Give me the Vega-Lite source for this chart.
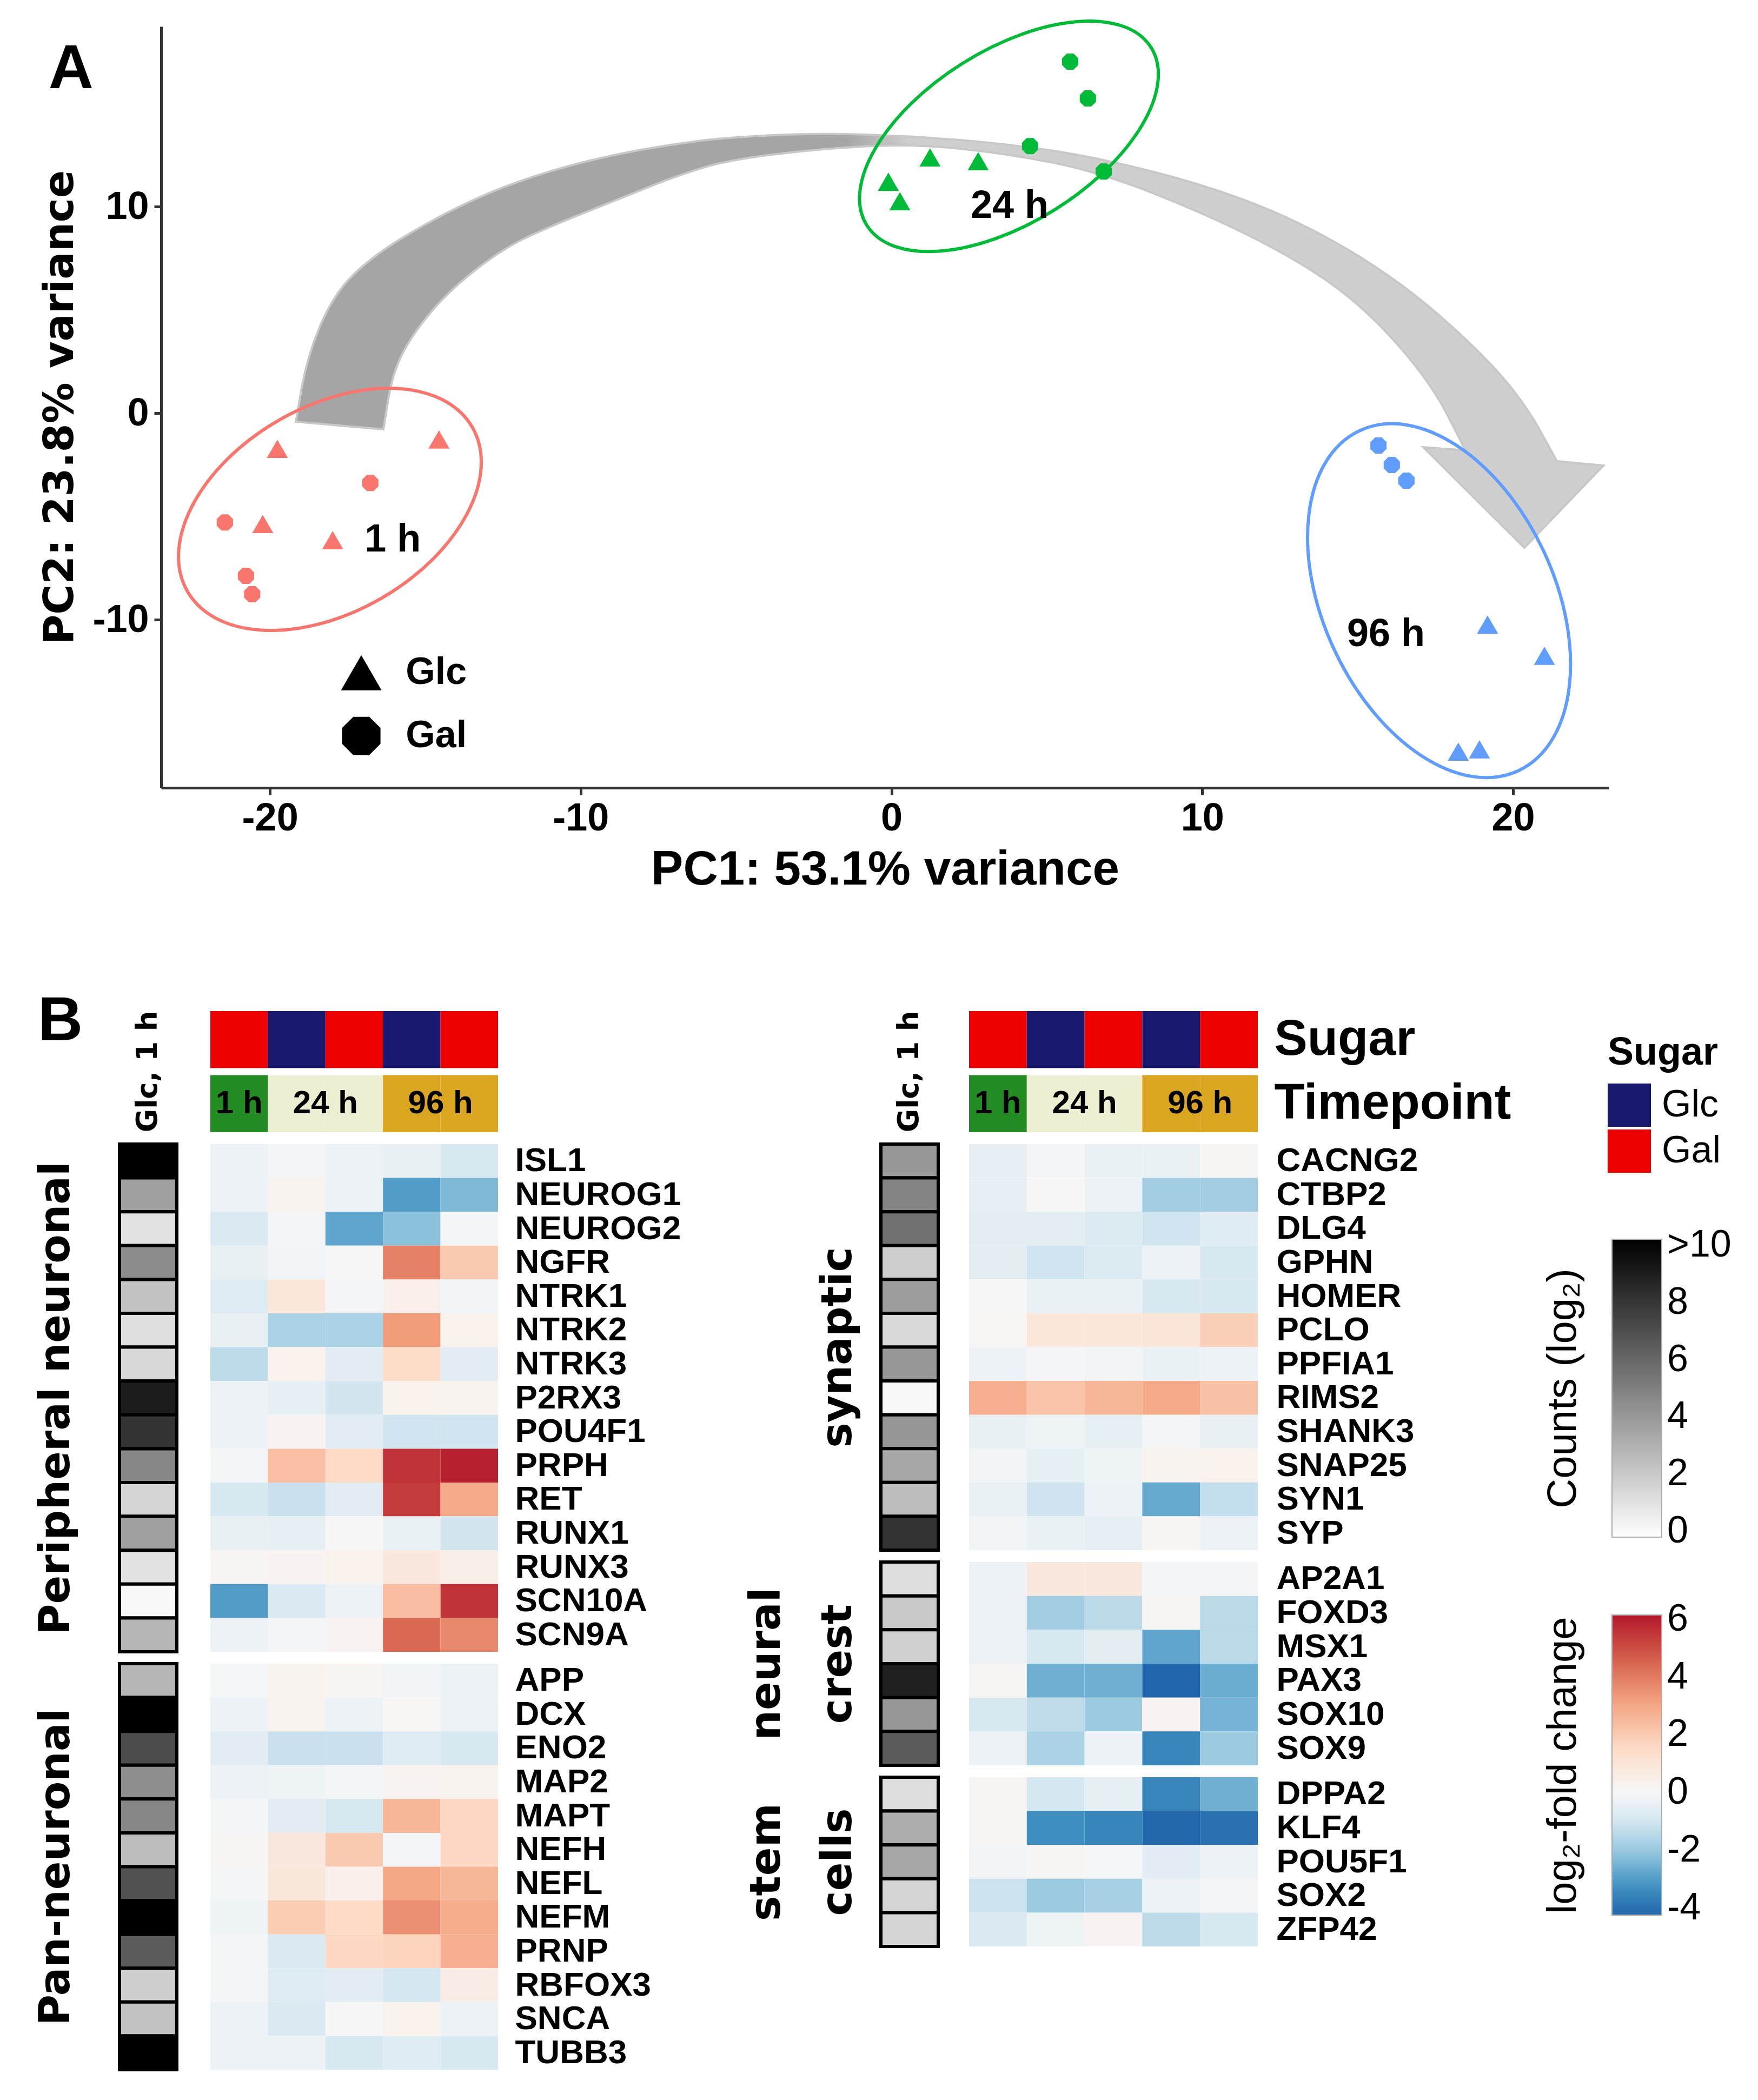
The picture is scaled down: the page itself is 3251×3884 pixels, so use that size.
{
  "$schema": "https://vega.github.io/schema/vega-lite/v6.json",
  "background": "white",
  "padding": {"left": 65, "top": 27, "right": 10, "bottom": 10},
  "config": {
    "view": {"stroke": null},
    "font": "Liberation Sans",
    "axis": {"grid": false, "labelColor": "black", "titleColor": "black", "labelFont": "Liberation Sans"},
    "legend": {"labelColor": "black", "titleColor": "black"}
  },
  "datasets": {
    "pca": [
      {"sugar": "Glc", "time": "1 h", "x": -19.76, "y": -1.73},
      {"sugar": "Glc", "time": "1 h", "x": -14.56, "y": -1.28},
      {"sugar": "Glc", "time": "1 h", "x": -20.23, "y": -5.37},
      {"sugar": "Glc", "time": "1 h", "x": -17.98, "y": -6.15},
      {"sugar": "Gal", "time": "1 h", "x": -16.77, "y": -3.38},
      {"sugar": "Gal", "time": "1 h", "x": -21.45, "y": -5.29},
      {"sugar": "Gal", "time": "1 h", "x": -20.77, "y": -7.88},
      {"sugar": "Gal", "time": "1 h", "x": -20.57, "y": -8.77},
      {"sugar": "Glc", "time": "24 h", "x": -0.10, "y": 11.20},
      {"sugar": "Glc", "time": "24 h", "x": 0.27, "y": 10.26},
      {"sugar": "Glc", "time": "24 h", "x": 1.24, "y": 12.38},
      {"sugar": "Glc", "time": "24 h", "x": 2.79, "y": 12.20},
      {"sugar": "Gal", "time": "24 h", "x": 5.75, "y": 17.02},
      {"sugar": "Gal", "time": "24 h", "x": 6.32, "y": 15.24},
      {"sugar": "Gal", "time": "24 h", "x": 4.46, "y": 12.93},
      {"sugar": "Gal", "time": "24 h", "x": 6.83, "y": 11.70},
      {"sugar": "Gal", "time": "96 h", "x": 15.67, "y": -1.57},
      {"sugar": "Gal", "time": "96 h", "x": 16.10, "y": -2.51},
      {"sugar": "Gal", "time": "96 h", "x": 16.57, "y": -3.27},
      {"sugar": "Glc", "time": "96 h", "x": 19.18, "y": -10.24},
      {"sugar": "Glc", "time": "96 h", "x": 21.01, "y": -11.75},
      {"sugar": "Glc", "time": "96 h", "x": 18.24, "y": -16.39},
      {"sugar": "Glc", "time": "96 h", "x": 18.92, "y": -16.28}
    ],
    "samples": [
      {"sample": "Gal 1h", "sugar": "Gal", "time": "1 h"},
      {"sample": "Glc 24h", "sugar": "Glc", "time": "24 h"},
      {"sample": "Gal 24h", "sugar": "Gal", "time": "24 h"},
      {"sample": "Glc 96h", "sugar": "Glc", "time": "96 h"},
      {"sample": "Gal 96h", "sugar": "Gal", "time": "96 h"}
    ],
    "genes": [
      {"block": "Peripheral neuronal", "gene": "ISL1", "counts": 10.5, "Gal 1h": -0.3, "Glc 24h": -0.1, "Gal 24h": -0.3, "Glc 96h": -0.4, "Gal 96h": -0.9},
      {"block": "Peripheral neuronal", "gene": "NEUROG1", "counts": 3.7, "Gal 1h": -0.3, "Glc 24h": 0.3, "Gal 24h": -0.3, "Glc 96h": -3.0, "Gal 96h": -2.4},
      {"block": "Peripheral neuronal", "gene": "NEUROG2", "counts": 1.0, "Gal 1h": -0.8, "Glc 24h": -0.1, "Gal 24h": -2.8, "Glc 96h": -2.2, "Gal 96h": -0.1},
      {"block": "Peripheral neuronal", "gene": "NGFR", "counts": 4.5, "Gal 1h": -0.4, "Glc 24h": -0.2, "Gal 24h": 0.0, "Glc 96h": 3.9, "Gal 96h": 2.0},
      {"block": "Peripheral neuronal", "gene": "NTRK1", "counts": 2.3, "Gal 1h": -0.7, "Glc 24h": 0.9, "Gal 24h": -0.1, "Glc 96h": 0.4, "Gal 96h": -0.2},
      {"block": "Peripheral neuronal", "gene": "NTRK2", "counts": 1.1, "Gal 1h": -0.4, "Glc 24h": -1.7, "Gal 24h": -1.7, "Glc 96h": 3.3, "Gal 96h": 0.35},
      {"block": "Peripheral neuronal", "gene": "NTRK3", "counts": 1.4, "Gal 1h": -1.4, "Glc 24h": 0.35, "Gal 24h": -0.6, "Glc 96h": 1.5, "Gal 96h": -0.6},
      {"block": "Peripheral neuronal", "gene": "P2RX3", "counts": 9.1, "Gal 1h": -0.3, "Glc 24h": -0.5, "Gal 24h": -1.0, "Glc 96h": 0.35, "Gal 96h": 0.3},
      {"block": "Peripheral neuronal", "gene": "POU4F1", "counts": 8.1, "Gal 1h": -0.3, "Glc 24h": 0.2, "Gal 24h": -0.6, "Glc 96h": -1.05, "Gal 96h": -1.05},
      {"block": "Peripheral neuronal", "gene": "PRPH", "counts": 4.7, "Gal 1h": -0.1, "Glc 24h": 2.3, "Gal 24h": 1.55, "Glc 96h": 5.6, "Gal 96h": 6.0},
      {"block": "Peripheral neuronal", "gene": "RET", "counts": 1.5, "Gal 1h": -0.85, "Glc 24h": -1.2, "Gal 24h": -0.6, "Glc 96h": 5.4, "Gal 96h": 2.9},
      {"block": "Peripheral neuronal", "gene": "RUNX1", "counts": 3.7, "Gal 1h": -0.4, "Glc 24h": -0.5, "Gal 24h": 0.0, "Glc 96h": -0.35, "Gal 96h": -1.0},
      {"block": "Peripheral neuronal", "gene": "RUNX3", "counts": 1.0, "Gal 1h": 0.15, "Glc 24h": 0.2, "Gal 24h": 0.35, "Glc 96h": 0.8, "Gal 96h": 0.45},
      {"block": "Peripheral neuronal", "gene": "SCN10A", "counts": 0.1, "Gal 1h": -3.0, "Glc 24h": -0.8, "Gal 24h": -0.3, "Glc 96h": 2.4, "Gal 96h": 5.6},
      {"block": "Peripheral neuronal", "gene": "SCN9A", "counts": 2.8, "Gal 1h": -0.3, "Glc 24h": -0.1, "Gal 24h": 0.2, "Glc 96h": 4.4, "Gal 96h": 3.7},
      {"block": "Pan-neuronal", "gene": "APP", "counts": 2.8, "Gal 1h": -0.05, "Glc 24h": 0.3, "Gal 24h": 0.15, "Glc 96h": -0.2, "Gal 96h": -0.3},
      {"block": "Pan-neuronal", "gene": "DCX", "counts": 10.5, "Gal 1h": -0.3, "Glc 24h": 0.3, "Gal 24h": -0.3, "Glc 96h": 0.05, "Gal 96h": -0.3},
      {"block": "Pan-neuronal", "gene": "ENO2", "counts": 7.1, "Gal 1h": -0.6, "Glc 24h": -1.2, "Gal 24h": -1.2, "Glc 96h": -0.7, "Gal 96h": -0.85},
      {"block": "Pan-neuronal", "gene": "MAP2", "counts": 4.4, "Gal 1h": -0.3, "Glc 24h": -0.25, "Gal 24h": -0.1, "Glc 96h": 0.2, "Gal 96h": 0.3},
      {"block": "Pan-neuronal", "gene": "MAPT", "counts": 4.7, "Gal 1h": -0.1, "Glc 24h": -0.6, "Gal 24h": -0.9, "Glc 96h": 2.6, "Gal 96h": 1.6},
      {"block": "Pan-neuronal", "gene": "NEFH", "counts": 2.5, "Gal 1h": 0.1, "Glc 24h": 0.8, "Gal 24h": 2.0, "Glc 96h": -0.1, "Gal 96h": 1.6},
      {"block": "Pan-neuronal", "gene": "NEFL", "counts": 6.9, "Gal 1h": -0.1, "Glc 24h": 0.85, "Gal 24h": 0.4, "Glc 96h": 3.0, "Gal 96h": 2.6},
      {"block": "Pan-neuronal", "gene": "NEFM", "counts": 10.5, "Gal 1h": -0.25, "Glc 24h": 1.95, "Gal 24h": 1.55, "Glc 96h": 3.55, "Gal 96h": 2.85},
      {"block": "Pan-neuronal", "gene": "PRNP", "counts": 6.5, "Gal 1h": -0.1, "Glc 24h": -0.8, "Gal 24h": 1.6, "Glc 96h": 1.75, "Gal 96h": 2.8},
      {"block": "Pan-neuronal", "gene": "RBFOX3", "counts": 1.8, "Gal 1h": -0.1, "Glc 24h": -0.7, "Gal 24h": -0.6, "Glc 96h": -0.95, "Gal 96h": 0.6},
      {"block": "Pan-neuronal", "gene": "SNCA", "counts": 2.3, "Gal 1h": -0.3, "Glc 24h": -0.8, "Gal 24h": 0.0, "Glc 96h": 0.35, "Gal 96h": -0.3},
      {"block": "Pan-neuronal", "gene": "TUBB3", "counts": 10.5, "Gal 1h": -0.3, "Glc 24h": -0.3, "Gal 24h": -0.9, "Glc 96h": -0.65, "Gal 96h": -0.85},
      {"block": "synaptic", "gene": "CACNG2", "counts": 4.0, "Gal 1h": -0.45, "Glc 24h": -0.1, "Gal 24h": -0.35, "Glc 96h": -0.35, "Gal 96h": 0.1},
      {"block": "synaptic", "gene": "CTBP2", "counts": 4.8, "Gal 1h": -0.45, "Glc 24h": 0.0, "Gal 24h": -0.3, "Glc 96h": -1.85, "Gal 96h": -1.85},
      {"block": "synaptic", "gene": "DLG4", "counts": 5.6, "Gal 1h": -0.55, "Glc 24h": -0.55, "Gal 24h": -0.75, "Glc 96h": -1.05, "Gal 96h": -0.65},
      {"block": "synaptic", "gene": "GPHN", "counts": 1.8, "Gal 1h": -0.55, "Glc 24h": -1.05, "Gal 24h": -0.75, "Glc 96h": -0.3, "Gal 96h": -0.85},
      {"block": "synaptic", "gene": "HOMER", "counts": 3.8, "Gal 1h": 0.0, "Glc 24h": -0.35, "Gal 24h": -0.35, "Glc 96h": -0.85, "Gal 96h": -0.85},
      {"block": "synaptic", "gene": "PCLO", "counts": 1.3, "Gal 1h": 0.05, "Glc 24h": 0.9, "Gal 24h": 0.9, "Glc 96h": 1.0, "Gal 96h": 1.85},
      {"block": "synaptic", "gene": "PPFIA1", "counts": 4.0, "Gal 1h": -0.3, "Glc 24h": -0.1, "Gal 24h": -0.2, "Glc 96h": -0.35, "Gal 96h": -0.3},
      {"block": "synaptic", "gene": "RIMS2", "counts": 0.1, "Gal 1h": 2.8, "Glc 24h": 2.2, "Gal 24h": 2.6, "Glc 96h": 2.9, "Gal 96h": 2.25},
      {"block": "synaptic", "gene": "SHANK3", "counts": 4.1, "Gal 1h": -0.4, "Glc 24h": -0.25, "Gal 24h": -0.5, "Glc 96h": -0.1, "Gal 96h": -0.4},
      {"block": "synaptic", "gene": "SNAP25", "counts": 3.4, "Gal 1h": -0.2, "Glc 24h": -0.5, "Gal 24h": -0.25, "Glc 96h": 0.3, "Gal 96h": 0.35},
      {"block": "synaptic", "gene": "SYN1", "counts": 2.5, "Gal 1h": -0.35, "Glc 24h": -1.1, "Gal 24h": -0.3, "Glc 96h": -2.7, "Gal 96h": -1.3},
      {"block": "synaptic", "gene": "SYP", "counts": 8.1, "Gal 1h": -0.2, "Glc 24h": -0.35, "Gal 24h": -0.5, "Glc 96h": 0.15, "Gal 96h": -0.3},
      {"block": "neural crest", "gene": "AP2A1", "counts": 1.2, "Gal 1h": -0.3, "Glc 24h": 0.8, "Gal 24h": 0.8, "Glc 96h": -0.1, "Gal 96h": -0.1},
      {"block": "neural crest", "gene": "FOXD3", "counts": 2.0, "Gal 1h": -0.3, "Glc 24h": -1.85, "Gal 24h": -1.45, "Glc 96h": 0.15, "Gal 96h": -1.45},
      {"block": "neural crest", "gene": "MSX1", "counts": 1.7, "Gal 1h": -0.3, "Glc 24h": -0.9, "Gal 24h": -0.55, "Glc 96h": -2.8, "Gal 96h": -1.45},
      {"block": "neural crest", "gene": "PAX3", "counts": 8.9, "Gal 1h": 0.1, "Glc 24h": -2.6, "Gal 24h": -2.6, "Glc 96h": -4.4, "Gal 96h": -2.65},
      {"block": "neural crest", "gene": "SOX10", "counts": 4.0, "Gal 1h": -0.9, "Glc 24h": -1.35, "Gal 24h": -1.95, "Glc 96h": 0.2, "Gal 96h": -2.5},
      {"block": "neural crest", "gene": "SOX9", "counts": 6.5, "Gal 1h": -0.3, "Glc 24h": -1.7, "Gal 24h": -0.3, "Glc 96h": -3.5, "Gal 96h": -1.95},
      {"block": "stem cells", "gene": "DPPA2", "counts": 1.2, "Gal 1h": 0.1, "Glc 24h": -0.95, "Gal 24h": -0.5, "Glc 96h": -3.5, "Gal 96h": -2.6},
      {"block": "stem cells", "gene": "KLF4", "counts": 3.1, "Gal 1h": 0.1, "Glc 24h": -3.3, "Gal 24h": -3.55, "Glc 96h": -4.2, "Gal 96h": -4.0},
      {"block": "stem cells", "gene": "POU5F1", "counts": 3.4, "Gal 1h": -0.2, "Glc 24h": 0.1, "Gal 24h": -0.05, "Glc 96h": -0.6, "Gal 96h": -0.3},
      {"block": "stem cells", "gene": "SOX2", "counts": 1.5, "Gal 1h": -1.15, "Glc 24h": -1.95, "Gal 24h": -1.75, "Glc 96h": -0.3, "Gal 96h": -0.1},
      {"block": "stem cells", "gene": "ZFP42", "counts": 1.5, "Gal 1h": -0.8, "Glc 24h": -0.25, "Gal 24h": 0.2, "Glc 96h": -1.4, "Gal 96h": -0.9}
    ]
  },
  "concat": [
    {
      "hconcat": [
        {
          "width": 1, "height": 1,
          "data": {"values": [{}]},
          "mark": {"type": "point", "opacity": 0}
        },
        {
          "width": 2677,
          "height": 1408,
          "encoding": {
            "x": {"field": "x", "type": "quantitative", "scale": {"domain": [-23.5, 23.08], "nice": false, "zero": false},
              "axis": {"values": [-20, -10, 0, 10, 20], "labelExpr": "toString(datum.value)", "title": "PC1: 53.1% variance", "titleFont": "Liberation Sans", "titleFontSize": 89, "titleFontWeight": "bold", "titlePadding": 16, "labelFontSize": 72, "labelFontWeight": "bold", "labelPadding": 8, "tickSize": 13, "tickWidth": 5, "tickColor": "#333333", "domainColor": "#333333", "domainWidth": 5, "labelFlush": false}},
            "y": {"field": "y", "type": "quantitative", "scale": {"domain": [-18.14, 18.72], "nice": false, "zero": false},
              "axis": {"values": [-10, 0, 10], "labelExpr": "toString(datum.value)", "title": "PC2: 23.8% variance", "titleFont": "DejaVu Sans", "titleFontSize": 76, "titleFontWeight": "bold", "titlePadding": 20, "labelFontSize": 72, "labelFontWeight": "bold", "labelPadding": 10, "tickSize": 13, "tickWidth": 5, "tickColor": "#333333", "domainColor": "#333333", "domainWidth": 5, "labelFlush": false}}
          },
          "layer": [
            {
              "data": {"values": [{"x": 0.252, "y": 9.87}]},
              "mark": {"type": "point", "size": 4, "filled": true, "opacity": 1, "stroke": "#c8c8c8", "strokeWidth": 4,
                "fill": {"gradient": "linear", "x1": 0, "y1": 0, "x2": 1, "y2": 0, "stops": [{"offset": 0, "color": "#a5a5a5"}, {"offset": 0.42, "color": "#a5a5a5"}, {"offset": 0.47, "color": "#d0cfd0"}, {"offset": 1, "color": "#d0cfd0"}]},
                "shape": "M -1116 393 L -1105.5 332.5 Q -1095 272 -1070.5 214.5 Q -1046 157 -1011.5 123 Q -977 89 -925.5 57 Q -874 25 -816.5 -3.5 Q -759 -32 -701.5 -52 Q -644 -72 -586.5 -86.5 Q -529 -101 -471.5 -111 Q -414 -121 -366 -127 Q -318 -133 -232 -137 Q -146 -141 -60 -138 Q 26 -135 112.5 -128 Q 199 -121 285 -108 Q 371 -95 476.5 -67.5 Q 582 -40 668 -5.5 Q 754 29 840 81 Q 926 133 998 196 Q 1070 259 1113 308 Q 1156 357 1186 411.5 L 1216 466 L 1302 474 L 1156 626 L 969 440 L 1047 446 L 1015.5 384 Q 984 322 926.5 256 Q 869 190 811.5 147 Q 754 104 668 59.5 Q 582 15 476.5 -27 Q 371 -69 285 -86 Q 199 -103 112.5 -112 Q 26 -121 -60 -116.5 Q -146 -112 -232 -101.5 Q -318 -91 -366 -76 Q -414 -61 -471.5 -38 Q -529 -15 -586.5 8 Q -644 31 -687 51 Q -730 71 -779 108.5 Q -828 146 -862.5 186 Q -897 226 -917 263.5 Q -937 301 -945.5 354 L -954 407 Z"}
            },
            {
              "data": {"values": [{"x": -18.07, "y": -4.66}]},
              "mark": {"type": "point", "size": 4, "filled": false, "opacity": 1, "stroke": "#F8766D", "strokeWidth": 6, "angle": 330,
                "shape": "M 304 0 C 304 104.9 167.9 190 0 190 C -167.9 190 -304 104.9 -304 0 C -304 -104.9 -167.9 -190 0 -190 C 167.9 -190 304 -104.9 304 0 Z"}
            },
            {
              "data": {"values": [{"x": 3.78, "y": 13.40}]},
              "mark": {"type": "point", "size": 4, "filled": false, "opacity": 1, "stroke": "#00BA38", "strokeWidth": 6, "angle": 328,
                "shape": "M 310 0 C 310 88.4 171.2 160 0 160 C -171.2 160 -310 88.4 -310 0 C -310 -88.4 -171.2 -160 0 -160 C 171.2 -160 310 -88.4 310 0 Z"}
            },
            {
              "data": {"values": [{"x": 17.62, "y": -9.08}]},
              "mark": {"type": "point", "size": 4, "filled": false, "opacity": 1, "stroke": "#619CFF", "strokeWidth": 6, "angle": 65,
                "shape": "M 347 0 C 347 118.2 191.6 214 0 214 C -191.6 214 -347 118.2 -347 0 C -347 -118.2 -191.6 -214 0 -214 C 191.6 -214 347 -118.2 347 0 Z"}
            },
            {
              "data": {"name": "pca"},
              "mark": {"type": "point", "filled": true, "opacity": 1, "size": 1521},
              "encoding": {
                "color": {"field": "time", "type": "nominal", "scale": {"domain": ["1 h", "24 h", "96 h"], "range": ["#F8766D", "#00BA38", "#619CFF"]}, "legend": null},
                "shape": {"field": "sugar", "type": "nominal", "scale": {"domain": ["Glc", "Gal"], "range": ["triangle-up", "M -0.32 -0.77 L 0.32 -0.77 L 0.77 -0.32 L 0.77 0.32 L 0.32 0.77 L -0.32 0.77 L -0.77 0.32 L -0.77 -0.32 Z"]}, "legend": null}
              }
            },
            {
              "data": {"values": [{"sugar": "Glc", "x": -17.06, "y": -12.57}]},
              "mark": {"type": "point", "filled": true, "opacity": 1, "size": 5625, "color": "black"},
              "encoding": {"shape": {"field": "sugar", "type": "nominal", "scale": {"domain": ["Glc", "Gal"], "range": ["triangle-up", "M -0.32 -0.77 L 0.32 -0.77 L 0.77 -0.32 L 0.77 0.32 L 0.32 0.77 L -0.32 0.77 L -0.77 0.32 L -0.77 -0.32 Z"]}, "legend": null}}
            },
            {
              "data": {"values": [{"sugar": "Gal", "x": -17.06, "y": -15.63}]},
              "mark": {"type": "point", "filled": true, "opacity": 1, "size": 8500, "color": "black"},
              "encoding": {"shape": {"field": "sugar", "type": "nominal", "scale": {"domain": ["Glc", "Gal"], "range": ["triangle-up", "M -0.32 -0.77 L 0.32 -0.77 L 0.77 -0.32 L 0.77 0.32 L 0.32 0.77 L -0.32 0.77 L -0.77 0.32 L -0.77 -0.32 Z"]}, "legend": null}}
            },
            {
              "data": {"values": [{"label": "Glc", "x": -15.63, "y": -12.57}, {"label": "Gal", "x": -15.63, "y": -15.63}]},
              "mark": {"type": "text", "align": "left", "baseline": "middle", "font": "Liberation Sans", "fontSize": 70, "fontWeight": "bold", "color": "black"},
              "encoding": {"text": {"field": "label"}}
            },
            {
              "data": {"values": [{"label": "1 h", "x": -16.05, "y": -6.13}, {"label": "24 h", "x": 3.80, "y": 10.03}, {"label": "96 h", "x": 15.91, "y": -10.71}]},
              "mark": {"type": "text", "align": "center", "baseline": "middle", "font": "Liberation Sans", "fontSize": 72, "fontWeight": "bold", "color": "black"},
              "encoding": {"text": {"field": "label"}}
            },
            {
              "data": {"values": [{"label": "A", "x": -26.4, "y": 16.65}]},
              "mark": {"type": "text", "align": "center", "baseline": "middle", "font": "Liberation Sans", "fontSize": 115, "fontWeight": "bold", "color": "black"},
              "encoding": {"text": {"field": "label"}}
            }
          ]
        }
      ],
      "bounds": "flush",
      "spacing": 76
    },
    {
      "hconcat": [
        {
          "columns": 2,
          "bounds": "flush",
          "spacing": {"row": 22, "column": 62},
          "resolve": {"scale": {"color": "independent"}},
          "concat": [
            {
              "width": 106, "height": 224,
              "title": {"text": "B", "anchor": "start", "frame": "group", "orient": "top", "offset": 0, "dx": -151, "dy": 78, "font": "Liberation Sans", "fontSize": 115, "fontWeight": "bold", "color": "black"},
              "data": {"values": [{"label": "Glc, 1 h"}]},
              "mark": {"type": "text", "angle": 270, "font": "DejaVu Sans", "fontWeight": "bold", "fontSize": 53, "color": "black", "align": "center", "baseline": "middle"},
              "encoding": {"text": {"field": "label"}}
            },
            {
              "width": 532, "height": 224,
              "data": {"name": "samples"},
              "encoding": {"x": {"field": "sample", "type": "nominal", "scale": {"domain": ["Gal 1h", "Glc 24h", "Gal 24h", "Glc 96h", "Gal 96h"], "paddingInner": 0, "paddingOuter": 0}, "axis": null}},
              "layer": [
                {"mark": {"type": "rect"}, "encoding": {"y": {"datum": "Sugar", "type": "nominal", "scale": {"domain": ["Sugar", "Timepoint"], "paddingInner": 0.11, "paddingOuter": 0}, "axis": null}, "color": {"field": "sugar", "type": "nominal", "scale": {"domain": ["Glc", "Gal"], "range": ["#191970", "#EE0000"]}, "legend": null}}},
                {"mark": {"type": "rect"}, "encoding": {"y": {"datum": "Timepoint", "type": "nominal", "scale": {"domain": ["Sugar", "Timepoint"], "paddingInner": 0.11, "paddingOuter": 0}, "axis": null}, "color": {"field": "time", "type": "nominal", "scale": {"domain": ["1 h", "24 h", "96 h"], "range": ["#228B22", "#EEEED2", "#DAA520"]}, "legend": null}}},
                {"transform": [{"filter": "datum.time === '1 h'"}], "mark": {"type": "text", "font": "Liberation Sans", "fontSize": 60, "fontWeight": "bold", "color": "black", "align": "center", "baseline": "middle"}, "encoding": {"y": {"datum": "Timepoint", "type": "nominal", "axis": null}, "x": {"field": "sample", "type": "nominal", "bandPosition": 0.5}, "text": {"field": "time"}}},
                {"transform": [{"filter": "datum.sample === 'Glc 24h' || datum.sample === 'Glc 96h'"}], "mark": {"type": "text", "font": "Liberation Sans", "fontSize": 60, "fontWeight": "bold", "color": "black", "align": "center", "baseline": "middle"}, "encoding": {"y": {"datum": "Timepoint", "type": "nominal", "axis": null}, "x": {"field": "sample", "type": "nominal", "bandPosition": 1}, "text": {"field": "time"}}}
              ],
              "resolve": {"scale": {"color": "independent"}}
            },
            {
              "width": 106, "height": 939,
              "data": {"name": "genes"},
              "transform": [{"filter": "datum.block === 'Peripheral neuronal'"}],
              "mark": {"type": "rect", "stroke": "black", "strokeWidth": 6},
              "encoding": {
                "y": {"field": "gene", "type": "nominal", "sort": null, "scale": {"paddingInner": 0, "paddingOuter": 0}, "axis": {"title": "Peripheral neuronal", "labels": false, "ticks": false, "domain": false, "titleFont": "DejaVu Sans", "titleFontSize": 78, "titleFontWeight": "bold", "titlePadding": 78, "titleLimit": 3000}},
                "color": {"field": "counts", "type": "quantitative", "scale": {"type": "linear", "domain": [-0.2, 10.2], "range": ["#ffffff", "#000000"], "clamp": true, "interpolate": "rgb"}, "legend": null}
              }
            },
            {
              "width": 532, "height": 939,
              "data": {"name": "genes"},
              "transform": [{"filter": "datum.block === 'Peripheral neuronal'"}, {"fold": ["Gal 1h", "Glc 24h", "Gal 24h", "Glc 96h", "Gal 96h"], "as": ["sample", "lfc"]}],
              "mark": {"type": "rect"},
              "encoding": {
                "x": {"field": "sample", "type": "nominal", "scale": {"domain": ["Gal 1h", "Glc 24h", "Gal 24h", "Glc 96h", "Gal 96h"], "paddingInner": 0, "paddingOuter": 0}, "axis": null},
                "y": {"field": "gene", "type": "nominal", "sort": null, "scale": {"paddingInner": 0, "paddingOuter": 0}, "axis": {"orient": "right", "title": null, "ticks": false, "domain": false, "labelFont": "Liberation Sans", "labelFontSize": 62, "labelFontWeight": "bold", "labelPadding": 31, "labelLimit": 0}},
                "color": {"field": "lfc", "type": "quantitative", "scale": {"type": "linear", "domain": [-4.25, -3.19, -2.125, -1.06, 0, 1.54, 3.08, 4.61, 6.15], "range": ["#2166AC", "#4393C3", "#92C5DE", "#D1E5F0", "#F7F7F7", "#FDDBC7", "#F4A582", "#D6604D", "#B2182B"], "clamp": true, "interpolate": "rgb"}, "legend": null}
              }
            },
            {
              "width": 106, "height": 751,
              "data": {"name": "genes"},
              "transform": [{"filter": "datum.block === 'Pan-neuronal'"}],
              "mark": {"type": "rect", "stroke": "black", "strokeWidth": 6},
              "encoding": {
                "y": {"field": "gene", "type": "nominal", "sort": null, "scale": {"paddingInner": 0, "paddingOuter": 0}, "axis": {"title": "Pan-neuronal", "labels": false, "ticks": false, "domain": false, "titleFont": "DejaVu Sans", "titleFontSize": 78, "titleFontWeight": "bold", "titlePadding": 78, "titleLimit": 3000}},
                "color": {"field": "counts", "type": "quantitative", "scale": {"type": "linear", "domain": [-0.2, 10.2], "range": ["#ffffff", "#000000"], "clamp": true, "interpolate": "rgb"}, "legend": null}
              }
            },
            {
              "width": 532, "height": 751,
              "data": {"name": "genes"},
              "transform": [{"filter": "datum.block === 'Pan-neuronal'"}, {"fold": ["Gal 1h", "Glc 24h", "Gal 24h", "Glc 96h", "Gal 96h"], "as": ["sample", "lfc"]}],
              "mark": {"type": "rect"},
              "encoding": {
                "x": {"field": "sample", "type": "nominal", "scale": {"domain": ["Gal 1h", "Glc 24h", "Gal 24h", "Glc 96h", "Gal 96h"], "paddingInner": 0, "paddingOuter": 0}, "axis": null},
                "y": {"field": "gene", "type": "nominal", "sort": null, "scale": {"paddingInner": 0, "paddingOuter": 0}, "axis": {"orient": "right", "title": null, "ticks": false, "domain": false, "labelFont": "Liberation Sans", "labelFontSize": 62, "labelFontWeight": "bold", "labelPadding": 31, "labelLimit": 0}},
                "color": {"field": "lfc", "type": "quantitative", "scale": {"type": "linear", "domain": [-4.25, -3.19, -2.125, -1.06, 0, 1.54, 3.08, 4.61, 6.15], "range": ["#2166AC", "#4393C3", "#92C5DE", "#D1E5F0", "#F7F7F7", "#FDDBC7", "#F4A582", "#D6604D", "#B2182B"], "clamp": true, "interpolate": "rgb"}, "legend": null}
              }
            }
          ]
        },
        {
          "columns": 2,
          "bounds": "flush",
          "spacing": {"row": 22, "column": 57},
          "resolve": {"scale": {"color": "independent"}},
          "concat": [
            {
              "width": 106, "height": 224,
              "data": {"values": [{"label": "Glc, 1 h"}]},
              "mark": {"type": "text", "angle": 270, "font": "DejaVu Sans", "fontWeight": "bold", "fontSize": 53, "color": "black", "align": "center", "baseline": "middle"},
              "encoding": {"text": {"field": "label"}}
            },
            {
              "width": 534, "height": 224,
              "data": {"name": "samples"},
              "encoding": {"x": {"field": "sample", "type": "nominal", "scale": {"domain": ["Gal 1h", "Glc 24h", "Gal 24h", "Glc 96h", "Gal 96h"], "paddingInner": 0, "paddingOuter": 0}, "axis": null}},
              "layer": [
                {"mark": {"type": "rect"}, "encoding": {"y": {"datum": "Sugar", "type": "nominal", "scale": {"domain": ["Sugar", "Timepoint"], "paddingInner": 0.11, "paddingOuter": 0}, "axis": {"orient": "right", "title": null, "domain": false, "ticks": false, "labelFont": "Liberation Sans", "labelFontSize": 92, "labelFontWeight": "bold", "labelPadding": 30, "labelLimit": 0}},
                  "color": {"field": "sugar", "type": "nominal", "scale": {"domain": ["Glc", "Gal"], "range": ["#191970", "#EE0000"]},
                    "legend": {"orient": "none", "legendX": 1181, "legendY": 42, "title": "Sugar", "titleFont": "Liberation Sans", "titleFontSize": 72, "titleFontWeight": "bold", "titlePadding": 20, "titleAnchor": "start", "titleLimit": 3000, "labelFont": "Liberation Sans", "labelFontSize": 70, "labelFontWeight": "normal", "labelLimit": 3000, "symbolType": "square", "symbolSize": 6400, "symbolStrokeWidth": 0, "rowPadding": 5, "labelOffset": 20, "padding": 0}}}},
                {"mark": {"type": "rect"}, "encoding": {"y": {"datum": "Timepoint", "type": "nominal", "scale": {"domain": ["Sugar", "Timepoint"], "paddingInner": 0.11, "paddingOuter": 0}, "axis": {"orient": "right", "title": null, "domain": false, "ticks": false, "labelFont": "Liberation Sans", "labelFontSize": 92, "labelFontWeight": "bold", "labelPadding": 30, "labelLimit": 0}}, "color": {"field": "time", "type": "nominal", "scale": {"domain": ["1 h", "24 h", "96 h"], "range": ["#228B22", "#EEEED2", "#DAA520"]}, "legend": null}}},
                {"transform": [{"filter": "datum.time === '1 h'"}], "mark": {"type": "text", "font": "Liberation Sans", "fontSize": 60, "fontWeight": "bold", "color": "black", "align": "center", "baseline": "middle"}, "encoding": {"y": {"datum": "Timepoint", "type": "nominal", "axis": {"orient": "right", "title": null, "domain": false, "ticks": false, "labelFont": "Liberation Sans", "labelFontSize": 92, "labelFontWeight": "bold", "labelPadding": 30, "labelLimit": 0}}, "x": {"field": "sample", "type": "nominal", "bandPosition": 0.5}, "text": {"field": "time"}}},
                {"transform": [{"filter": "datum.sample === 'Glc 24h' || datum.sample === 'Glc 96h'"}], "mark": {"type": "text", "font": "Liberation Sans", "fontSize": 60, "fontWeight": "bold", "color": "black", "align": "center", "baseline": "middle"}, "encoding": {"y": {"datum": "Timepoint", "type": "nominal", "axis": {"orient": "right", "title": null, "domain": false, "ticks": false, "labelFont": "Liberation Sans", "labelFontSize": 92, "labelFontWeight": "bold", "labelPadding": 30, "labelLimit": 0}}, "x": {"field": "sample", "type": "nominal", "bandPosition": 1}, "text": {"field": "time"}}}
              ],
              "resolve": {"scale": {"color": "independent"}}
            },
            {
              "width": 106, "height": 751,
              "data": {"name": "genes"},
              "transform": [{"filter": "datum.block === 'synaptic'"}],
              "mark": {"type": "rect", "stroke": "black", "strokeWidth": 6},
              "encoding": {
                "y": {"field": "gene", "type": "nominal", "sort": null, "scale": {"paddingInner": 0, "paddingOuter": 0}, "axis": {"title": "synaptic", "labels": false, "ticks": false, "domain": false, "titleFont": "DejaVu Sans", "titleFontSize": 78, "titleFontWeight": "bold", "titlePadding": 40, "titleLimit": 3000}},
                "color": {"field": "counts", "type": "quantitative", "scale": {"type": "linear", "domain": [-0.2, 10.2], "range": ["#ffffff", "#000000"], "clamp": true, "interpolate": "rgb"},
                  "legend": {"orient": "none", "legendX": 1224, "legendY": 176, "direction": "vertical", "title": "Counts (log₂)", "titleOrient": "left", "titleAnchor": "middle", "titleFont": "Liberation Sans", "titleFontSize": 76, "titleFontWeight": "normal", "titlePadding": 50, "titleLimit": 3000, "gradientLength": 551, "gradientThickness": 92, "gradientStrokeColor": "#aaaaaa", "gradientStrokeWidth": 2, "values": [0, 2, 4, 6, 8, 10], "labelExpr": "datum.value >= 10 ? '>10' : toString(datum.value)", "labelFont": "Liberation Sans", "labelFontSize": 70, "labelOffset": 10, "labelOverlap": false, "labelLimit": 3000, "padding": 0}}
              }
            },
            {
              "width": 534, "height": 751,
              "data": {"name": "genes"},
              "transform": [{"filter": "datum.block === 'synaptic'"}, {"fold": ["Gal 1h", "Glc 24h", "Gal 24h", "Glc 96h", "Gal 96h"], "as": ["sample", "lfc"]}],
              "mark": {"type": "rect"},
              "encoding": {
                "x": {"field": "sample", "type": "nominal", "scale": {"domain": ["Gal 1h", "Glc 24h", "Gal 24h", "Glc 96h", "Gal 96h"], "paddingInner": 0, "paddingOuter": 0}, "axis": null},
                "y": {"field": "gene", "type": "nominal", "sort": null, "scale": {"paddingInner": 0, "paddingOuter": 0}, "axis": {"orient": "right", "title": null, "ticks": false, "domain": false, "labelFont": "Liberation Sans", "labelFontSize": 62, "labelFontWeight": "bold", "labelPadding": 34, "labelLimit": 0}},
                "color": {"field": "lfc", "type": "quantitative", "scale": {"type": "linear", "domain": [-4.25, -3.19, -2.125, -1.06, 0, 1.54, 3.08, 4.61, 6.15], "range": ["#2166AC", "#4393C3", "#92C5DE", "#D1E5F0", "#F7F7F7", "#FDDBC7", "#F4A582", "#D6604D", "#B2182B"], "clamp": true, "interpolate": "rgb"}, "legend": null}
              }
            },
            {
              "width": 106, "height": 376,
              "data": {"name": "genes"},
              "transform": [{"filter": "datum.block === 'neural crest'"}],
              "mark": {"type": "rect", "stroke": "black", "strokeWidth": 6},
              "encoding": {
                "y": {"field": "gene", "type": "nominal", "sort": null, "scale": {"paddingInner": 0, "paddingOuter": 0}, "axis": {"title": ["neural", "crest"], "labels": false, "ticks": false, "domain": false, "titleFont": "DejaVu Sans", "titleFontSize": 78, "titleFontWeight": "bold", "titlePadding": 40, "titleLineHeight": 132, "titleLimit": 3000}},
                "color": {"field": "counts", "type": "quantitative", "scale": {"type": "linear", "domain": [-0.2, 10.2], "range": ["#ffffff", "#000000"], "clamp": true, "interpolate": "rgb"}, "legend": null}
              }
            },
            {
              "width": 534, "height": 376,
              "data": {"name": "genes"},
              "transform": [{"filter": "datum.block === 'neural crest'"}, {"fold": ["Gal 1h", "Glc 24h", "Gal 24h", "Glc 96h", "Gal 96h"], "as": ["sample", "lfc"]}],
              "mark": {"type": "rect"},
              "encoding": {
                "x": {"field": "sample", "type": "nominal", "scale": {"domain": ["Gal 1h", "Glc 24h", "Gal 24h", "Glc 96h", "Gal 96h"], "paddingInner": 0, "paddingOuter": 0}, "axis": null},
                "y": {"field": "gene", "type": "nominal", "sort": null, "scale": {"paddingInner": 0, "paddingOuter": 0}, "axis": {"orient": "right", "title": null, "ticks": false, "domain": false, "labelFont": "Liberation Sans", "labelFontSize": 62, "labelFontWeight": "bold", "labelPadding": 34, "labelLimit": 0}},
                "color": {"field": "lfc", "type": "quantitative", "scale": {"type": "linear", "domain": [-4.25, -3.19, -2.125, -1.06, 0, 1.54, 3.08, 4.61, 6.15], "range": ["#2166AC", "#4393C3", "#92C5DE", "#D1E5F0", "#F7F7F7", "#FDDBC7", "#F4A582", "#D6604D", "#B2182B"], "clamp": true, "interpolate": "rgb"},
                  "legend": {"orient": "none", "legendX": 1061, "legendY": 98, "direction": "vertical", "title": "log₂-fold change", "titleOrient": "left", "titleAnchor": "middle", "titleFont": "Liberation Sans", "titleFontSize": 76, "titleFontWeight": "normal", "titlePadding": 50, "titleLimit": 3000, "gradientLength": 555, "gradientThickness": 92, "gradientStrokeColor": "#aaaaaa", "gradientStrokeWidth": 2, "values": [-4, -2, 0, 2, 4, 6], "labelExpr": "toString(datum.value)", "labelFont": "Liberation Sans", "labelFontSize": 70, "labelOffset": 10, "labelOverlap": false, "labelLimit": 3000, "padding": 0}}
              }
            },
            {
              "width": 106, "height": 313,
              "data": {"name": "genes"},
              "transform": [{"filter": "datum.block === 'stem cells'"}],
              "mark": {"type": "rect", "stroke": "black", "strokeWidth": 6},
              "encoding": {
                "y": {"field": "gene", "type": "nominal", "sort": null, "scale": {"paddingInner": 0, "paddingOuter": 0}, "axis": {"title": ["stem", "cells"], "labels": false, "ticks": false, "domain": false, "titleFont": "DejaVu Sans", "titleFontSize": 78, "titleFontWeight": "bold", "titlePadding": 40, "titleLineHeight": 132, "titleLimit": 3000}},
                "color": {"field": "counts", "type": "quantitative", "scale": {"type": "linear", "domain": [-0.2, 10.2], "range": ["#ffffff", "#000000"], "clamp": true, "interpolate": "rgb"}, "legend": null}
              }
            },
            {
              "width": 534, "height": 313,
              "data": {"name": "genes"},
              "transform": [{"filter": "datum.block === 'stem cells'"}, {"fold": ["Gal 1h", "Glc 24h", "Gal 24h", "Glc 96h", "Gal 96h"], "as": ["sample", "lfc"]}],
              "mark": {"type": "rect"},
              "encoding": {
                "x": {"field": "sample", "type": "nominal", "scale": {"domain": ["Gal 1h", "Glc 24h", "Gal 24h", "Glc 96h", "Gal 96h"], "paddingInner": 0, "paddingOuter": 0}, "axis": null},
                "y": {"field": "gene", "type": "nominal", "sort": null, "scale": {"paddingInner": 0, "paddingOuter": 0}, "axis": {"orient": "right", "title": null, "ticks": false, "domain": false, "labelFont": "Liberation Sans", "labelFontSize": 62, "labelFontWeight": "bold", "labelPadding": 34, "labelLimit": 0}},
                "color": {"field": "lfc", "type": "quantitative", "scale": {"type": "linear", "domain": [-4.25, -3.19, -2.125, -1.06, 0, 1.54, 3.08, 4.61, 6.15], "range": ["#2166AC", "#4393C3", "#92C5DE", "#D1E5F0", "#F7F7F7", "#FDDBC7", "#F4A582", "#D6604D", "#B2182B"], "clamp": true, "interpolate": "rgb"}, "legend": null}
              }
            }
          ]
        }
      ],
      "spacing": 120,
      "resolve": {"scale": {"color": "independent"}}
    }
  ],
  "columns": 1,
  "align": "none",
  "spacing": 178,
  "resolve": {"scale": {"color": "independent", "shape": "independent"}}
}
